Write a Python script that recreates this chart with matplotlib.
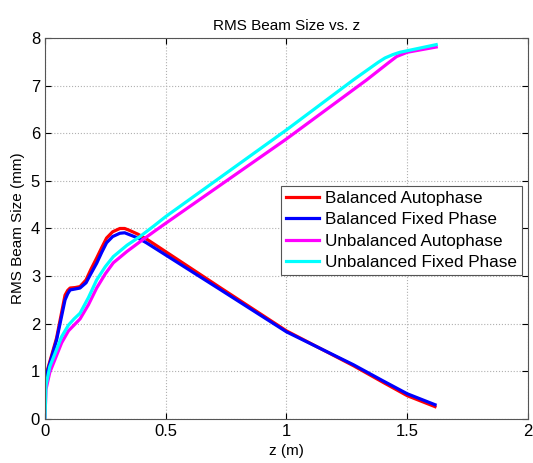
import matplotlib
matplotlib.use('Agg')
import matplotlib.pyplot as plt

plt.rcParams['font.family'] = ['Liberation Sans', 'DejaVu Sans']

# balanced runs
z_bal = [0, 0.048, 0.083, 0.094, 0.104, 0.125, 0.145, 0.17, 0.19, 0.214, 0.235,
         0.255, 0.28, 0.31, 0.33, 0.35, 0.385, 0.42,
         0.725, 1.0, 1.277, 1.4, 1.5, 1.615]
bal_auto = [0.85, 1.7, 2.6, 2.7, 2.75, 2.76, 2.78, 2.92, 3.14, 3.38, 3.6,
            3.8, 3.93, 4.0, 4.0, 3.96, 3.88, 3.78,
            2.76, 1.85, 1.12, 0.77, 0.49, 0.26]
bal_fixed = [0.82, 1.66, 2.5, 2.63, 2.71, 2.73, 2.75, 2.86, 3.05, 3.27, 3.5,
             3.7, 3.83, 3.9, 3.91, 3.87, 3.8, 3.7,
             2.72, 1.83, 1.14, 0.8, 0.53, 0.3]

# unbalanced runs
z_unb_auto = [0, 0.004, 0.02, 0.069, 0.097, 0.12, 0.145, 0.18, 0.214, 0.25,
              0.283, 0.34, 0.393, 0.45, 0.5,
              1.0, 1.332, 1.42, 1.456, 1.5, 1.62]
unb_auto = [0, 0.62, 0.98, 1.6, 1.85, 1.97, 2.1, 2.4, 2.75, 3.05,
            3.28, 3.52, 3.72, 3.93, 4.11,
            5.88, 7.12, 7.47, 7.61, 7.7, 7.81]
z_unb_fixed = [0, 0.004, 0.02, 0.069, 0.097, 0.12, 0.145, 0.18, 0.214, 0.25,
               0.283, 0.34, 0.393, 0.45, 0.5,
               1.0, 1.277, 1.38, 1.408, 1.44, 1.47, 1.62]
unb_fixed = [0, 0.7, 1.1, 1.73, 1.97, 2.1, 2.22, 2.55, 2.92, 3.2,
             3.41, 3.65, 3.83, 4.05, 4.25,
             6.07, 7.12, 7.49, 7.58, 7.65, 7.7, 7.86]

fig = plt.figure(figsize=(5.33, 4.63), dpi=100)
ax = fig.add_axes([0.0844, 0.095, 0.9062, 0.823])

lw = 2.3
ax.plot(z_bal, bal_auto, color='#ff0000', lw=lw, label='Balanced Autophase')
ax.plot(z_bal, bal_fixed, color='#0000ff', lw=lw, label='Balanced Fixed Phase')
ax.plot(z_unb_auto, unb_auto, color='#ff00ff', lw=lw, label='Unbalanced Autophase')
ax.plot(z_unb_fixed, unb_fixed, color='#00ffff', lw=lw, label='Unbalanced Fixed Phase')

ax.set_xlim(0, 2)
ax.set_ylim(0, 8)
ax.set_xticks([0, 0.5, 1, 1.5, 2])
ax.set_xticklabels(['0', '0.5', '1', '1.5', '2'])
ax.set_yticks(range(0, 9))
ax.grid(True, linestyle=':', color='#b0b0b0', linewidth=0.8)
ax.tick_params(direction='in', top=True, right=True, labelsize=12, length=4)
for s in ax.spines.values():
    s.set_color('#555555')

ax.set_title('RMS Beam Size vs. z', fontsize=11)
ax.set_xlabel('z (m)', fontsize=11)
ax.set_ylabel('RMS Beam Size (mm)', fontsize=11)

leg = ax.legend(loc='center right', bbox_to_anchor=(0.988, 0.495), fontsize=12.3,
                fancybox=False, framealpha=1, edgecolor='#555555',
                borderpad=0.3, labelspacing=0.38, handlelength=1.95,
                handletextpad=0.35, borderaxespad=0)
leg.get_frame().set_linewidth(0.8)

fig.savefig('out.png', dpi=100)
